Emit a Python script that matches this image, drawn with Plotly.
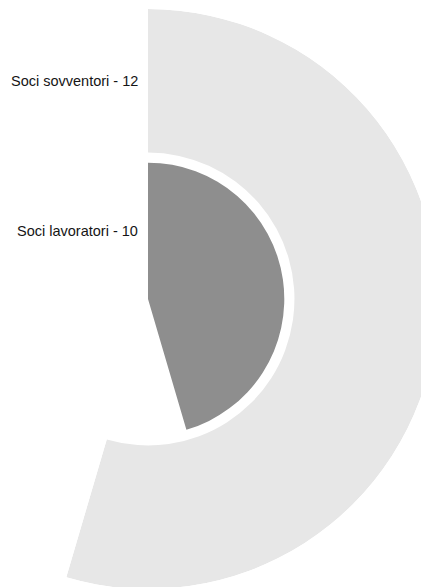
import math
import plotly.graph_objects as go

# ---- data ----
categories = ["Soci lavoratori", "Soci sovventori"]
values = [10, 12]
label_texts = [f"{c} - {v}" for c, v in zip(categories, values)]

# ---- styling / layout constants ----
colors = ["#8e8e8e", "#e7e7e7"]
band_inner = [0.0, 0.505]   # radial band start (fraction of outer radius)
band_outer = [0.47, 1.0]    # radial band end
FIG_W, FIG_H = 442, 600     # page is larger than the window: edges of the ring are cut off
CX, CY, R = 148, 299, 290   # centre and outer radius in px

total = sum(values)
ang = [v / total * 360 for v in values]
end_screen = 90 - max(ang)   # screen angle (ccw from east) where the longest bar ends
x0 = math.cos(math.radians(end_screen))  # left extent of sector bbox (fraction of R)

fig = go.Figure()
for i in range(len(values)):
    fig.add_trace(go.Barpolar(
        r=[band_outer[i] - band_inner[i]],
        base=[band_inner[i]],
        theta=[ang[i] / 2],
        width=[ang[i]],
        marker=dict(color=colors[i], line=dict(width=0)),
        name=categories[i],
        hoverinfo="skip",
    ))

dom_x = [(CX + x0 * R) / FIG_W, (CX + R) / FIG_W]
dom_y = [(FIG_H - (CY + R)) / FIG_H, (FIG_H - (CY - R)) / FIG_H]

annotations = []
for i, t in enumerate(label_texts):
    rmid = (band_inner[i] + band_outer[i]) / 2 * R
    ypx = CY - rmid
    annotations.append(dict(
        text=t, x=(CX - 8) / FIG_W, y=(FIG_H - ypx) / FIG_H,
        xref="paper", yref="paper", xanchor="right", yanchor="middle",
        showarrow=False,
        font=dict(family="Liberation Sans, Arial, sans-serif", size=14.5, color="#151515"),
    ))

fig.update_layout(
    width=FIG_W, height=FIG_H,
    margin=dict(l=0, r=0, t=0, b=0),
    paper_bgcolor="white",
    showlegend=False,
    polar=dict(
        domain=dict(x=dom_x, y=dom_y),
        sector=[end_screen, 90],
        bgcolor="white",
        hole=0,
        radialaxis=dict(range=[0, 1], visible=False, showgrid=False),
        angularaxis=dict(rotation=90, direction="clockwise",
                         visible=False, showgrid=False),
    ),
    annotations=annotations,
)

fig.write_html(
    "out.html",
    config={"displayModeBar": False},
    post_script="document.body.style.margin='0';document.body.style.overflow='hidden';document.documentElement.style.overflow='hidden';",
)
